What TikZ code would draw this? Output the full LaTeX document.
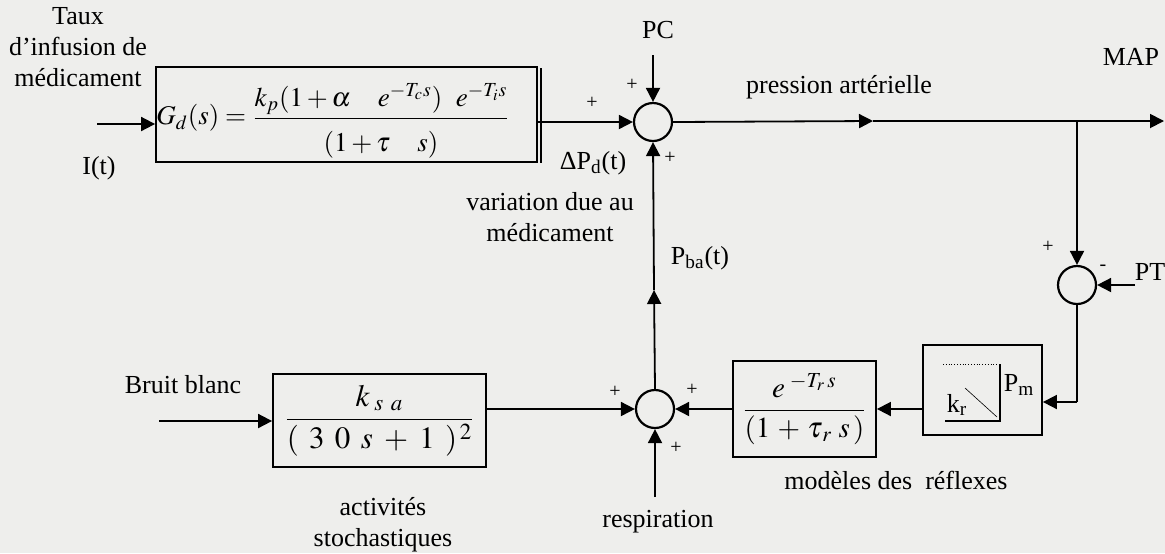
\documentclass[tikz,border=0pt]{standalone}
\usepackage{amsmath}
\usepackage{mathptmx}
\usepackage[no-math]{fontspec}
\setmainfont{Liberation Serif}
\usepackage{tikz}
\usetikzlibrary{arrows.meta}

\definecolor{paper}{RGB}{238,238,236}
\tikzset{
  blk/.style={draw, line width=0.9pt, inner sep=0pt},
  sumc/.style={draw, circle, line width=1.1pt, minimum size=19pt, inner sep=0pt},
  lbl/.style={font=\fontsize{13}{15.5}\selectfont, align=center, inner sep=0pt},
  sgn/.style={font=\fontsize{10}{12}\selectfont, inner sep=0pt},
  eqn/.style={font=\fontsize{13.5}{16}\selectfont, inner sep=0pt},
  wire/.style={line width=0.9pt},
}

\begin{document}
\begin{tikzpicture}[x=0.5pt, y=-0.5pt, >={Triangle[length=7pt,width=7pt]}]
  \fill[paper] (0,0) rectangle (1165,553);
  \useasboundingbox (0,0) rectangle (1165,553);

  % blocks
  \node[blk, minimum width=190.5pt, minimum height=47.5pt] (gd) at (346.5,114.5) {};
  \node[eqn] (gdtf) at (333,121)
    {$G_d(s)=\dfrac{k_p(1+\alpha\quad e^{-T_c s})\enskip e^{-T_i s}}{\rule{0pt}{15pt}(1+\tau\quad s)}$};
  \draw[wire] ([xshift=1.6pt,yshift=-1pt]gd.north east) -- ([xshift=1.6pt]gd.south east);

  \node[blk, eqn, font=\fontsize{15.5}{18}\selectfont, minimum width=106.5pt, minimum height=46.5pt] (ksa) at (379.5,420.5)
    {$\dfrac{k_{\;s\;\,a}}{(\mkern6mu 3\mkern6mu 0\mkern6mu s\mkern4mu+\mkern4mu 1\mkern6mu)^{\,2}}$};
  \node[blk, eqn, font=\fontsize{14.5}{17}\selectfont, minimum width=71.5pt, minimum height=48pt] (er) at (804.5,409)
    {$\dfrac{e^{\;-T_r\,s}}{(1\,+\,\tau_{\,r}\mkern4mu s\,)}$};
  \node[blk, minimum width=59.5pt, minimum height=45pt] (kr) at (982.5,390) {};
  \draw[densely dotted, line width=0.4pt] (943,364) -- (1000,364);
  \draw[wire] (945,421) -- (1000,421) -- (1000,364);
  \draw[line width=0.3pt] (965,388) -- (997,417);
  \node[lbl] (krlab) at (957,405) {k\textsubscript{r}};
  \node[lbl] (pmlab) at (1019,385) {P\textsubscript{m}};

  % summing junctions
  \node[sumc] (s1) at (653,122) {};
  \node[sumc] (s2) at (1077,285) {};
  \node[sumc] (s3) at (655,409) {};

  % labels
  \node[lbl] (taux) at (78,47) {Taux\\d’infusion de\\médicament};
  \node[lbl] (it) at (99,168) {I(t)};
  \node[lbl] (pc) at (658,30) {PC};
  \node[lbl] (pa) at (839,87) {pression artérielle};
  \node[lbl] (map) at (1131,57) {MAP};
  \node[lbl] (pt) at (1150,272) {PT};
  \node[lbl] (dpd) at (593,163) {ΔP\textsubscript{d}(t)};
  \node[lbl] (vdm) at (550,217) {variation due au\\médicament};
  \node[lbl] (pbat) at (700,258) {P\textsubscript{ba}(t)};
  \node[lbl] (bb) at (183,385) {Bruit blanc};
  \node[lbl] (acts) at (383,525) {activités\\stochastiques};
  \node[lbl] (resp) at (658,522) {respiration};
  \node[lbl] (mdr) at (896,480) {modèles des\ \ réflexes};

  % signs
  \node[sgn] at (592,103) {+};
  \node[sgn] at (632,85) {+};
  \node[sgn] at (670,158) {+};
  \node[sgn] at (615,392) {+};
  \node[sgn] at (692,390) {+};
  \node[sgn] at (676,448) {+};
  \node[sgn] at (1048,247) {+};
  \node[sgn] at (1103,268) {-};

  % connectors
  \coordinate (iin) at (97,124);
  \coordinate (pcin) at (653,55);
  \coordinate (pmid) at (873,121);
  \coordinate (mapout) at (1164,121);
  \coordinate (tap) at (1077,121);
  \coordinate (ptin) at (1135,285);
  \coordinate (krin) at (1077,402);
  \coordinate (bbin) at (159,421);
  \coordinate (respin) at (655,497);
  \coordinate (pba) at (654,290);

  \draw[wire,->] (iin) -- (iin -| gd.west);
  \draw[wire,->] (gd.east |- s1) -- (s1.west);
  \draw[wire,->] (pcin) -- (s1.north);
  \draw[wire,->] (s1.east) -- (pmid);
  \draw[wire,->] (pmid) -- (mapout);
  \draw[wire,->] (tap) -- (s2.north);
  \draw[wire,->] (ptin) -- (s2.east);
  \draw[wire] (s2.south) -- (krin);
  \draw[wire,->] (krin) -- (krin -| kr.east);
  \draw[wire,->] (kr.west |- er) -- (er.east);
  \draw[wire,->] (er.west) -- (s3.east);
  \draw[wire,->] (bbin) -- (bbin -| ksa.west);
  \draw[wire,->] (ksa.east |- s3) -- (s3.west);
  \draw[wire,->] (respin) -- (s3.south);
  \draw[wire,->] (s3.north) -- (pba);
  \draw[wire,->] (pba) -- (s1.south);
\end{tikzpicture}
\end{document}
